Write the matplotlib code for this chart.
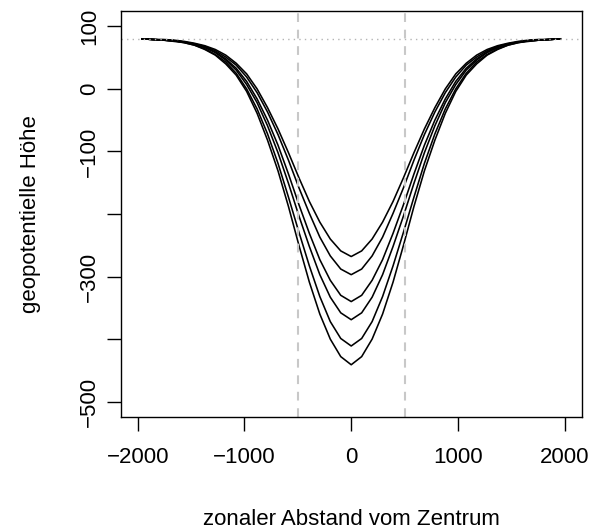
import matplotlib
matplotlib.use("Agg")
import matplotlib.pyplot as plt

plt.rcParams['font.family'] = ['Liberation Sans', 'DejaVu Sans']

x_km = [-1960, -1862, -1764, -1666, -1568, -1470, -1372, -1274, -1176, -1078, -980,
        -882, -784, -686, -588, -490, -392, -294, -196, -98, 0,
        98, 196, 294, 392, 490, 588, 686, 784, 882, 980,
        1078, 1176, 1274, 1372, 1470, 1568, 1666, 1764, 1862, 1960]

h1 = [80, 79, 79, 78, 76, 73, 69, 63, 54, 41, 24, 0, -30, -64, -102, -142, -180, -213, -240, -259, -268,
      -259, -240, -213, -180, -142, -102, -64, -30, 0, 24, 41, 54, 63, 69, 73, 76, 78, 79, 79, 80]
h2 = [80, 79, 78, 77, 75, 72, 68, 61, 51, 38, 19, -6, -37, -73, -114, -158, -199, -237, -267, -288, -297,
      -288, -267, -237, -199, -158, -114, -73, -37, -6, 19, 38, 51, 61, 68, 72, 75, 77, 78, 79, 80]
h3 = [80, 79, 78, 77, 75, 72, 67, 59, 48, 33, 12, -16, -50, -90, -136, -185, -231, -273, -306, -330, -340,
      -330, -306, -273, -231, -185, -136, -90, -50, -16, 12, 33, 48, 59, 67, 72, 75, 77, 78, 79, 80]
h4 = [80, 79, 78, 77, 75, 71, 66, 58, 46, 30, 7, -22, -59, -102, -151, -203, -252, -297, -333, -358, -369,
      -358, -333, -297, -252, -203, -151, -102, -59, -22, 7, 30, 46, 58, 66, 71, 75, 77, 78, 79, 80]
h5 = [80, 79, 78, 77, 74, 70, 64, 55, 43, 25, 0, -32, -72, -119, -173, -229, -283, -332, -372, -399, -411,
      -399, -372, -332, -283, -229, -173, -119, -72, -32, 0, 25, 43, 55, 64, 70, 74, 77, 78, 79, 80]
h6 = [80, 79, 78, 76, 74, 70, 63, 54, 40, 22, -4, -39, -82, -131, -188, -250, -309, -360, -400, -428, -441,
      -428, -400, -360, -309, -250, -188, -131, -82, -39, -4, 22, 40, 54, 63, 70, 74, 76, 78, 79, 80]
curves = [h1, h2, h3, h4, h5, h6]

plateau = 80
vlines = [-500, 500]

xticks = [-2000, -1000, 0, 1000, 2000]
xticklabels = ['\u22122000', '\u22121000', '0', '1000', '2000']
yticks = [100, 0, -100, -200, -300, -400, -500]
yticklabels = ['100', '0', '\u2212100', '', '\u2212300', '', '\u2212500']

FS = 16

fig = plt.figure(figsize=(5.92, 5.31), dpi=100)
ax = fig.add_axes([0.2039, 0.2153, 0.7787, 0.7634])

for h in curves:
    ax.plot(x_km, h, color='black', lw=1.15)

ax.axhline(plateau, color='#b4b4b4', lw=1.0, ls=(0, (1, 3)))
for v in vlines:
    ax.axvline(v, color='#c8c8c8', lw=1.5, ls=(0, (4.2, 3.7)))

ax.set_xlim(-2160, 2160)
ax.set_ylim(-524, 124)
ax.set_xticks(xticks)
ax.set_xticklabels(xticklabels)
ax.set_yticks(yticks)
ax.set_yticklabels(yticklabels, rotation=90, va='center')
ax.tick_params(direction='out', length=10, width=1.0, labelsize=FS)
ax.tick_params(axis='x', pad=12)
ax.tick_params(axis='y', pad=5)
for s in ax.spines.values():
    s.set_linewidth(1.0)

ax.set_xlabel('zonaler Abstand vom Zentrum', fontsize=FS, labelpad=29.5)
ax.set_ylabel('geopotentielle Höhe', fontsize=FS, labelpad=27.5)

fig.savefig('out.png', dpi=100)
